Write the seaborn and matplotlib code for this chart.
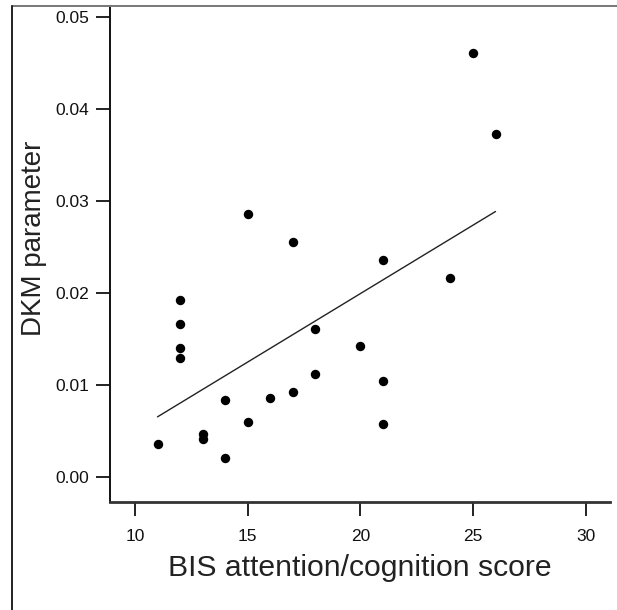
import matplotlib
matplotlib.use("Agg")
import matplotlib.pyplot as plt
from matplotlib.lines import Line2D
import seaborn as sns
import pandas as pd

# Data
bis_score = [11, 12, 12, 12, 12, 13, 13, 14, 14, 15, 15, 16, 17, 17,
             18, 18, 20, 21, 21, 21, 24, 25, 26]
dkm_param = [0.0036, 0.0192, 0.0166, 0.0140, 0.0129, 0.0046, 0.0041,
             0.0083, 0.0020, 0.0059, 0.0286, 0.0085, 0.0092, 0.0255,
             0.0161, 0.0112, 0.0142, 0.0104, 0.0057, 0.0235, 0.0216,
             0.0460, 0.0373]
x_ticks = [10, 15, 20, 25, 30]
y_ticks = [0.00, 0.01, 0.02, 0.03, 0.04, 0.05]
x_label = "BIS attention/cognition score"
y_label = "DKM parameter"

df = pd.DataFrame({"bis": bis_score, "dkm": dkm_param})

sns.set_style("ticks")
plt.rcParams["font.family"] = ["Liberation Sans", "DejaVu Sans"]

fig = plt.figure(figsize=(6.17, 6.10), dpi=100)
ax = fig.add_axes([110 / 617, 1 - 501.7 / 610, 500 / 617, (501.7 - 6) / 610])

sns.regplot(data=df, x="bis", y="dkm", ax=ax, ci=None, truncate=True,
            scatter_kws=dict(s=46, color="black", edgecolor="black",
                             linewidths=0, alpha=1),
            line_kws=dict(color="#222222", lw=1.0))

ax.set_xlim(8.891, 31.08)
ax.set_ylim(-0.00272, 0.05116)
ax.set_xticks(x_ticks)
ax.set_xticklabels([str(v) for v in x_ticks])
ax.set_yticks(y_ticks)
ax.set_yticklabels([f"{v:.2f}" for v in y_ticks])

for s in ["top", "right"]:
    ax.spines[s].set_visible(False)
ax.spines["left"].set_color("#111111")
ax.spines["left"].set_linewidth(1.4)
ax.spines["bottom"].set_color("#333333")
ax.spines["bottom"].set_linewidth(2.0)

ax.tick_params(axis="both", direction="out", length=10, width=1.3,
               color="#111111", labelsize=12.5, labelcolor="#111111")
ax.tick_params(axis="y", pad=5)
ax.tick_params(axis="x", pad=10)

ax.set_xlabel(x_label, fontsize=21.7, color="#222222")
ax.set_ylabel(y_label, fontsize=20, color="#222222")
ax.yaxis.set_label_coords(-0.125, 0.532)
ax.xaxis.set_label_coords(0.5, -0.105)

# figure frame lines (top and left)
fig.add_artist(Line2D([12 / 617, 1], [1 - 6 / 610, 1 - 6 / 610],
                      transform=fig.transFigure, color="#777777", lw=1.4))
fig.add_artist(Line2D([12 / 617, 12 / 617], [0, 1 - 6 / 610],
                      transform=fig.transFigure, color="#222222", lw=1.4))

fig.savefig("out.png", dpi=100, facecolor="white")
